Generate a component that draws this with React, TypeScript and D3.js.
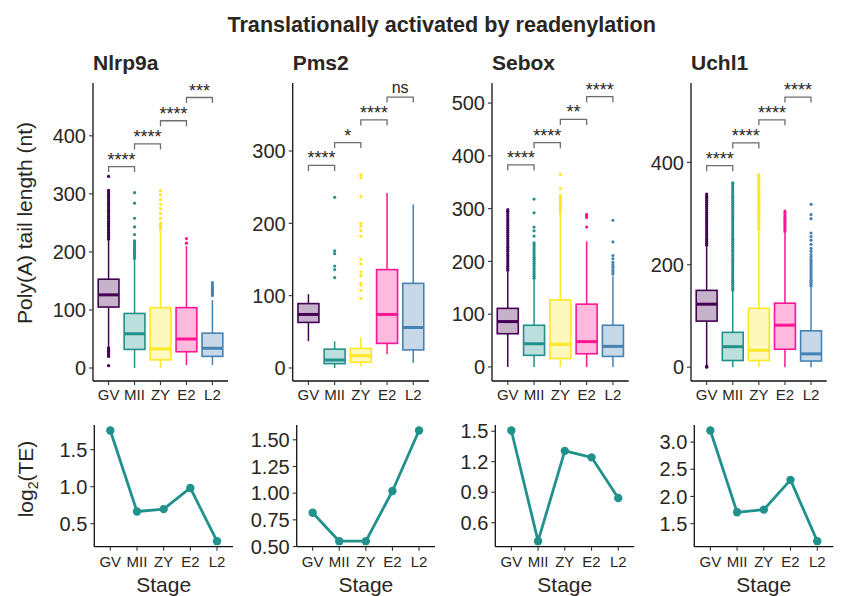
import React from "react";
import * as d3 from "d3";

const W = 841;
const H = 596;

const stages = ["GV", "MII", "ZY", "E2", "L2"];
const stageColors = ["#440154", "#21918c", "#fde725", "#ff1493", "#4682b4"];
const genes = ["Nlrp9a", "Pms2", "Sebox", "Uchl1"];
const mainTitle = "Translationally activated by readenylation";

// box stats per stage: [lowerWhisker, q1, median, q3, upperWhisker]
const nlrp9aBox = [[38, 105, 126, 153, 220], [0, 32, 59, 94, 188], [0, 14, 33, 104, 235], [5, 28, 50, 104, 210], [5, 20, 34, 60, 117]];
const pms2Box = [[37, 63, 74, 89, 102], [0, 6, 11, 26, 37], [2, 8, 17, 27, 42], [19, 34, 74, 136, 242], [7, 25, 56, 117, 226]];
const seboxBox = [[0, 63, 86, 111, 180], [0, 22, 44, 79, 165], [0, 16, 43, 127, 290], [0, 25, 48, 119, 238], [0, 20, 39, 79, 172]];
const uchl1Box = [[3, 90, 123, 150, 235], [0, 13, 40, 68, 148], [0, 13, 33, 115, 265], [0, 35, 82, 125, 262], [0, 12, 26, 71, 155]];

const nlrp9aOut = [
  [4, 20, 23, 26, 29, 32, 35, 222, 225, 228, 231, 234, 237, 240, 243, 246, 249, 252, 255, 258, 261, 264, 267, 270, 273, 276, 279, 282, 285, 288, 291, 294, 297, 300, 303, 306, 330],
  [189, 192, 195, 198, 201, 204, 207, 210, 213, 216, 219, 230, 243, 258, 284, 302],
  [238, 241, 244, 247, 250, 258, 266, 274, 282, 290, 298, 305],
  [215, 223],
  [125, 128, 131, 134, 137, 140, 143, 147],
];
const pms2Out = [
  [],
  [125, 136, 141, 158, 162, 236],
  [96, 107, 114, 117, 128, 133, 144, 150, 182, 190, 196, 200, 237, 263, 267],
  [],
  [],
];
const seboxOut = [
  [183, 187, 191, 195, 199, 203, 207, 211, 215, 219, 223, 227, 231, 235, 239, 243, 247, 251, 255, 259, 263, 267, 271, 275, 279, 283, 287, 291, 295, 298],
  [168, 172, 176, 180, 184, 188, 192, 196, 200, 204, 208, 212, 216, 220, 224, 228, 232, 235, 248, 258, 265, 292, 318],
  [292, 296, 300, 304, 308, 312, 316, 320, 325, 338, 365],
  [265, 283, 286, 289],
  [176, 180, 184, 189, 193, 198, 205, 211, 237, 278],
];
const uchl1Out = [
  [0, 2, 238, 242, 246, 250, 254, 258, 262, 266, 270, 274, 278, 282, 286, 290, 294, 298, 302, 306, 310, 314, 318, 322, 326, 330, 334, 338],
  [150, 154, 158, 162, 166, 170, 174, 178, 182, 186, 190, 194, 198, 202, 206, 210, 214, 218, 222, 226, 230, 234, 238, 242, 246, 250, 254, 258, 262, 266, 270, 274, 278, 282, 286, 290, 294, 298, 302, 306, 310, 314, 318, 322, 326, 330, 334, 338, 342, 346, 350, 354, 358, 360],
  [268, 272, 276, 280, 284, 288, 292, 296, 300, 304, 308, 312, 316, 320, 324, 328, 332, 336, 340, 344, 348, 352, 356, 360, 364, 368, 372, 376],
  [265, 269, 273, 277, 281, 285, 289, 293, 297, 301, 305],
  [158, 162, 166, 170, 174, 178, 182, 186, 190, 194, 198, 202, 206, 210, 215, 220, 226, 232, 240, 248, 255, 262, 290, 298, 318],
];

// significance brackets (y in data units) and labels
const nlrp9aBracket = [347, 386, 426, 466];
const pms2Bracket = [280, 311.6, 343, 374.5];
const seboxBracket = [382.7, 425, 469, 512];
const uchl1Bracket = [393.5, 438, 483, 527.6];
const nlrp9aSig = ["****", "****", "****", "***"];
const pms2Sig = ["****", "*", "****", "ns"];
const seboxSig = ["****", "****", "**", "****"];
const uchl1Sig = ["****", "****", "****", "****"];

const nlrp9aTicks = [0, 100, 200, 300, 400];
const pms2Ticks = [0, 100, 200, 300];
const seboxTicks = [0, 100, 200, 300, 400, 500];
const uchl1Ticks = [0, 200, 400];
const nlrp9aDomain = [-22.4, 491];
const pms2Domain = [-18, 394];
const seboxDomain = [-26.6, 538];
const uchl1Domain = [-27, 555];

// log2(TE) per stage
const nlrp9aTE = [1.759, 0.665, 0.697, 0.983, 0.264];
const pms2TE = [0.816, 0.55, 0.55, 1.02, 1.587];
const seboxTE = [1.507, 0.418, 1.307, 1.243, 0.843];
const uchl1TE = [3.213, 1.708, 1.757, 2.305, 1.177];
const nlrp9aTETicks = [0.5, 1.0, 1.5];
const pms2TETicks = [0.5, 0.75, 1.0, 1.25, 1.5];
const seboxTETicks = [0.6, 0.9, 1.2, 1.5];
const uchl1TETicks = [1.5, 2.0, 2.5, 3.0];
const teFormats = [".1f", ".2f", ".1f", ".1f"];

const boxStats = [nlrp9aBox, pms2Box, seboxBox, uchl1Box];
const outliers = [nlrp9aOut, pms2Out, seboxOut, uchl1Out];
const brackets = [nlrp9aBracket, pms2Bracket, seboxBracket, uchl1Bracket];
const sigs = [nlrp9aSig, pms2Sig, seboxSig, uchl1Sig];
const boxTicks = [nlrp9aTicks, pms2Ticks, seboxTicks, uchl1Ticks];
const boxDomains = [nlrp9aDomain, pms2Domain, seboxDomain, uchl1Domain];
const teValues = [nlrp9aTE, pms2TE, seboxTE, uchl1TE];
const teTicks = [nlrp9aTETicks, pms2TETicks, seboxTETicks, uchl1TETicks];

// layout
const boxPanelX = [[93, 228], [292.7, 429], [492, 628.7], [691, 826.7]];
const linePanelX = [[94.3, 233], [296.7, 435], [495.3, 634.3], [694.3, 833.3]];
const BOX_TOP = 83;
const BOX_BOTTOM = 381;
const LINE_TOP = 425;
const LINE_BOTTOM = 546.7;

const FONT = "Liberation Sans, Arial, Helvetica, sans-serif";
const TXT = "#2a2621";
const LINE_COLOR = "#21918c";

function BoxPanel({ gi }: { gi: number }) {
  const [x0, x1] = boxPanelX[gi];
  const x = d3.scalePoint<string>().domain(stages).range([x0, x1]).padding(0.6);
  const y = d3.scaleLinear().domain(boxDomains[gi]).range([BOX_BOTTOM, BOX_TOP]);
  const bw = x.step() * 0.8;
  const stats = boxStats[gi];
  return (
    <g>
      <text x={x0} y={70} fontFamily={FONT} fontWeight="bold" fontSize={21} fill={TXT}>
        {genes[gi]}
      </text>
      {stages.map((s, i) => {
        const [lo, q1, med, q3, hi] = stats[i];
        const cx = x(s)!;
        const c = stageColors[i];
        return (
          <g key={s}>
            <line x1={cx} x2={cx} y1={y(lo)} y2={y(q1)} stroke={c} strokeWidth={1.5} />
            <line x1={cx} x2={cx} y1={y(q3)} y2={y(hi)} stroke={c} strokeWidth={1.5} />
            {outliers[gi][i].map((v, k) => (
              <circle key={k} cx={cx} cy={y(v)} r={1.6} fill={c} />
            ))}
            <rect
              x={cx - bw / 2}
              y={y(q3)}
              width={bw}
              height={y(q1) - y(q3)}
              fill={c}
              fillOpacity={0.3}
              stroke={c}
              strokeWidth={1.6}
            />
            <line x1={cx - bw / 2} x2={cx + bw / 2} y1={y(med)} y2={y(med)} stroke={c} strokeWidth={3} />
          </g>
        );
      })}
      {brackets[gi].map((b, k) => {
        const xa = x(stages[k])!;
        const xb = x(stages[k + 1])!;
        const yy = y(b);
        const isNs = sigs[gi][k] === "ns";
        return (
          <g key={k}>
            <path
              d={`M${xa},${yy + 5.5}V${yy}H${xb}V${yy + 5.5}`}
              fill="none"
              stroke="#6e6e6e"
              strokeWidth={1.3}
            />
            <text
              x={(xa + xb) / 2}
              y={yy - (isNs ? 4 : 1)}
              textAnchor="middle"
              fontFamily={FONT}
              fontSize={isNs ? 16 : 18}
              fill={TXT}
            >
              {sigs[gi][k]}
            </text>
          </g>
        );
      })}
      <line x1={x0} x2={x0} y1={BOX_TOP} y2={BOX_BOTTOM} stroke="#111" strokeWidth={1.3} />
      <line x1={x0} x2={x1} y1={BOX_BOTTOM} y2={BOX_BOTTOM} stroke="#111" strokeWidth={1.3} />
      {boxTicks[gi].map((t) => (
        <g key={t}>
          <line x1={x0 - 4} x2={x0} y1={y(t)} y2={y(t)} stroke="#333" strokeWidth={1.1} />
          <text x={x0 - 7} y={y(t)} dy="0.36em" textAnchor="end" fontFamily={FONT} fontSize={20} fill={TXT}>
            {t}
          </text>
        </g>
      ))}
      {stages.map((s) => (
        <g key={s}>
          <line x1={x(s)} x2={x(s)} y1={BOX_BOTTOM} y2={BOX_BOTTOM + 4} stroke="#333" strokeWidth={1.1} />
          <text x={x(s)} y={400} textAnchor="middle" fontFamily={FONT} fontSize={15} fill={TXT}>
            {s}
          </text>
        </g>
      ))}
    </g>
  );
}

function LinePanel({ gi }: { gi: number }) {
  const [x0, x1] = linePanelX[gi];
  const vals = teValues[gi];
  const x = d3.scalePoint<string>().domain(stages).range([x0, x1]).padding(0.6);
  const [mn, mx] = d3.extent(vals) as [number, number];
  const pad = (mx - mn) * 0.05;
  const y = d3.scaleLinear().domain([mn - pad, mx + pad]).range([LINE_BOTTOM, LINE_TOP]);
  const line = d3
    .line<number>()
    .x((_, i) => x(stages[i])!)
    .y((d) => y(d));
  const fmt = d3.format(teFormats[gi]);
  return (
    <g>
      <path d={line(vals)!} fill="none" stroke={LINE_COLOR} strokeWidth={2.8} strokeLinejoin="round" />
      {vals.map((v, i) => (
        <circle key={i} cx={x(stages[i])} cy={y(v)} r={4.2} fill={LINE_COLOR} />
      ))}
      <line x1={x0} x2={x0} y1={LINE_TOP} y2={LINE_BOTTOM} stroke="#111" strokeWidth={1.3} />
      <line x1={x0} x2={x1} y1={LINE_BOTTOM} y2={LINE_BOTTOM} stroke="#111" strokeWidth={1.3} />
      {teTicks[gi].map((t) => (
        <g key={t}>
          <line x1={x0 - 4} x2={x0} y1={y(t)} y2={y(t)} stroke="#333" strokeWidth={1.1} />
          <text x={x0 - 7} y={y(t)} dy="0.36em" textAnchor="end" fontFamily={FONT} fontSize={20} fill={TXT}>
            {fmt(t)}
          </text>
        </g>
      ))}
      {stages.map((s) => (
        <g key={s}>
          <line x1={x(s)} x2={x(s)} y1={LINE_BOTTOM} y2={LINE_BOTTOM + 4} stroke="#333" strokeWidth={1.1} />
          <text x={x(s)} y={566.5} textAnchor="middle" fontFamily={FONT} fontSize={15} fill={TXT}>
            {s}
          </text>
        </g>
      ))}
      <text x={(x0 + x1) / 2} y={592} textAnchor="middle" fontFamily={FONT} fontSize={21} fill={TXT}>
        Stage
      </text>
    </g>
  );
}

export default function App() {
  return (
    <svg
      width={W}
      height={H}
      viewBox={`0 0 ${W} ${H}`}
      style={{ position: "absolute", left: 0, top: 0, background: "#fff" }}
    >
      <rect width={W} height={H} fill="#fff" />
      <text x={441.7} y={31.5} textAnchor="middle" fontFamily={FONT} fontWeight="bold" fontSize={21.6} fill={TXT}>
        {mainTitle}
      </text>
      <text
        transform="translate(32,223) rotate(-90)"
        textAnchor="middle"
        fontFamily={FONT}
        fontSize={21}
        fill={TXT}
      >
        Poly(A) tail length (nt)
      </text>
      <text
        transform="translate(33,479) rotate(-90)"
        textAnchor="middle"
        fontFamily={FONT}
        fontSize={21}
        fill={TXT}
      >
        log
        <tspan fontSize={14} dy={5}>2</tspan>
        <tspan dy={-5}>(TE)</tspan>
      </text>
      {genes.map((g, gi) => (
        <BoxPanel key={g} gi={gi} />
      ))}
      {genes.map((g, gi) => (
        <LinePanel key={g} gi={gi} />
      ))}
    </svg>
  );
}
